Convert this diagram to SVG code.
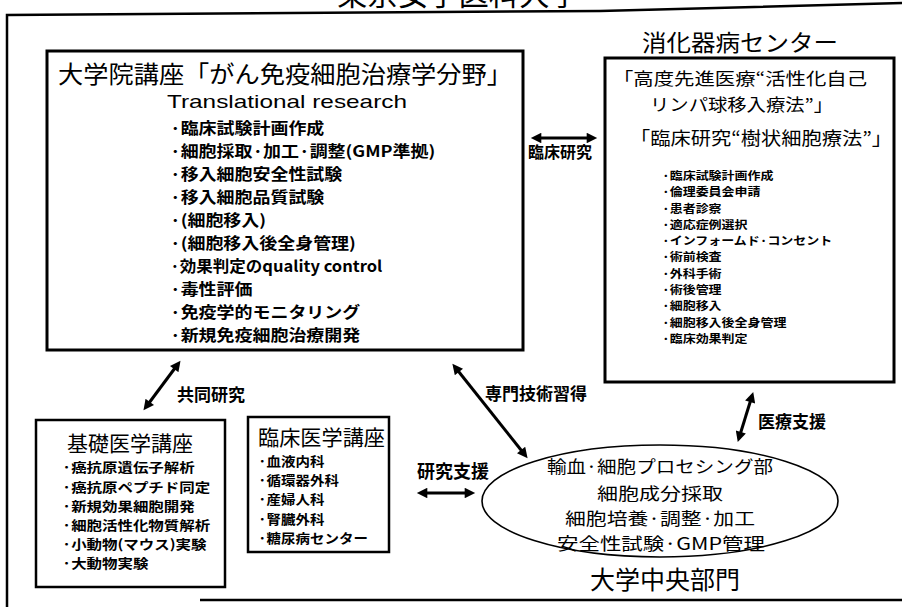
<svg xmlns="http://www.w3.org/2000/svg" width="902" height="607" viewBox="0 0 902 607">
<style>
text{font-family:"Noto Sans CJK JP","Noto Sans",sans-serif;fill:#000}
.box{fill:#fff;stroke:#000;stroke-width:3}
.sbox{fill:#fff;stroke:#000;stroke-width:2.5}
.itm{font-size:15.5px;font-weight:bold}
.ritm{font-size:11.3px;font-weight:bold}
.bitm{font-size:13px;font-weight:bold}
.lbl{font-size:17px;font-weight:bold}
.latin{font-family:"Liberation Sans",Arial,sans-serif;font-size:19px}
.conn{stroke:#000;stroke-width:3;fill:none;marker-start:url(#ah);marker-end:url(#ah)}
</style>
<defs>
<marker id="ah" viewBox="0 0 10 10" refX="6" refY="5" markerWidth="4" markerHeight="3.5" orient="auto-start-reverse" markerUnits="strokeWidth">
<path d="M0,0 L10,5 L0,10 z" fill="#000"/>
</marker>
</defs>
<rect width="902" height="607" fill="#fff"/>
<g id="frame">
<polyline points="7,607 7,15 600,11 902,3" fill="none" stroke="#000" stroke-width="2.5"/>
<line x1="200" y1="600" x2="902" y2="600" stroke="#000" stroke-width="2.5"/>
<text x="337" y="5" style="font-size:30px" textLength="243" lengthAdjust="spacingAndGlyphs">東京女子医科大学</text>
</g>
<g id="graduate">
<rect class="box" x="47" y="51" width="476" height="299"/>
<text x="58" y="83" style="font-size:24px" textLength="454" lengthAdjust="spacingAndGlyphs">大学院講座「がん免疫細胞治療学分野」</text>
<text class="latin" x="167" y="108" textLength="240" lengthAdjust="spacingAndGlyphs">Translational research</text>
<text class="itm" transform="matrix(1.16,0,0,1,170,0)"><tspan x="0" y="134.5">·臨床試験計画作成</tspan><tspan x="0" y="157.5">·細胞採取·加工·調整(GMP準拠)</tspan><tspan x="0" y="180.5">·移入細胞安全性試験</tspan><tspan x="0" y="203.5">·移入細胞品質試験</tspan><tspan x="0" y="226.5">·(細胞移入)</tspan><tspan x="0" y="249.5">·(細胞移入後全身管理)</tspan><tspan x="0" y="272.5" textLength="183" lengthAdjust="spacingAndGlyphs">·効果判定のquality control</tspan><tspan x="0" y="295.5">·毒性評価</tspan><tspan x="0" y="318.5">·免疫学的モニタリング</tspan><tspan x="0" y="341.5">·新規免疫細胞治療開発</tspan></text>
</g>
<g id="digestive">
<text x="740" y="51" text-anchor="middle" style="font-size:23px" textLength="196" lengthAdjust="spacingAndGlyphs">消化器病センター</text>
<rect class="box" x="605" y="58" width="289" height="324"/>
<text x="613" y="85" style="font-size:17px" textLength="254" lengthAdjust="spacingAndGlyphs">「高度先進医療“活性化自己</text>
<text x="650" y="111" style="font-size:17px" textLength="183" lengthAdjust="spacingAndGlyphs">リンパ球移入療法”」</text>
<text x="630" y="145" style="font-size:18px" textLength="262" lengthAdjust="spacingAndGlyphs">「臨床研究“樹状細胞療法”」</text>
<text class="ritm" transform="matrix(1.15,0,0,1,662,0)"><tspan x="0" y="180">·臨床試験計画作成</tspan><tspan x="0" y="196.3">·倫理委員会申請</tspan><tspan x="0" y="212.6">·患者診察</tspan><tspan x="0" y="228.9">·適応症例選択</tspan><tspan x="0" y="245.2">·インフォームド·コンセント</tspan><tspan x="0" y="261.5">·術前検査</tspan><tspan x="0" y="277.8">·外科手術</tspan><tspan x="0" y="294.1">·術後管理</tspan><tspan x="0" y="310.4">·細胞移入</tspan><tspan x="0" y="326.7">·細胞移入後全身管理</tspan><tspan x="0" y="343">·臨床効果判定</tspan></text>
</g>
<g id="basic">
<rect class="sbox" x="36" y="420" width="189" height="167"/>
<text x="67" y="451" style="font-size:21px" textLength="126" lengthAdjust="spacingAndGlyphs">基礎医学講座</text>
<text class="bitm" transform="matrix(1.19,0,0,1,62,0)"><tspan x="0" y="472.5">·癌抗原遺伝子解析</tspan><tspan x="0" y="491.7">·癌抗原ペプチド同定</tspan><tspan x="0" y="510.9">·新規効果細胞開発</tspan><tspan x="0" y="530.1">·細胞活性化物質解析</tspan><tspan x="0" y="549.3">·小動物(マウス)実験</tspan><tspan x="0" y="568.5">·大動物実験</tspan></text>
</g>
<g id="clinical">
<rect class="sbox" x="248" y="417" width="141" height="135"/>
<text x="258" y="445" style="font-size:21px" textLength="127" lengthAdjust="spacingAndGlyphs">臨床医学講座</text>
<text class="bitm" transform="matrix(1.115,0,0,1,258,0)"><tspan x="0" y="466">·血液内科</tspan><tspan x="0" y="485.2">·循環器外科</tspan><tspan x="0" y="504.4">·産婦人科</tspan><tspan x="0" y="523.6">·腎臓外科</tspan><tspan x="0" y="542.8">·糖尿病センター</tspan></text>
</g>
<g id="central">
<ellipse cx="660" cy="501" rx="178" ry="56" fill="none" stroke="#000" stroke-width="1.6"/>
<text text-anchor="middle" style="font-size:17px"><tspan x="660" y="473" textLength="226" lengthAdjust="spacingAndGlyphs">輸血·細胞プロセシング部</tspan><tspan x="660" y="500" textLength="126" lengthAdjust="spacingAndGlyphs">細胞成分採取</tspan><tspan x="660" y="525" textLength="190" lengthAdjust="spacingAndGlyphs">細胞培養·調整·加工</tspan><tspan x="661" y="550" textLength="208" lengthAdjust="spacingAndGlyphs">安全性試験·GMP管理</tspan></text>
<text x="665" y="588.5" text-anchor="middle" style="font-size:25px">大学中央部門</text>
</g>
<g id="connectors">
<line class="conn" x1="535" y1="138" x2="593" y2="138"/>
<line class="conn" x1="178" y1="364" x2="146" y2="407"/>
<line class="conn" x1="455" y1="367" x2="525" y2="455"/>
<line class="conn" x1="752" y1="396" x2="739" y2="438"/>
<line class="conn" x1="421" y1="493" x2="471" y2="493"/>
<text class="lbl" x="560" y="158" text-anchor="middle" style="font-size:16px">臨床研究</text>
<text class="lbl" x="177" y="400.5">共同研究</text>
<text class="lbl" x="485" y="399.5">専門技術習得</text>
<text class="lbl" x="758" y="427.5">医療支援</text>
<text class="lbl" x="417" y="478" style="font-size:18px">研究支援</text>
</g>
</svg>
